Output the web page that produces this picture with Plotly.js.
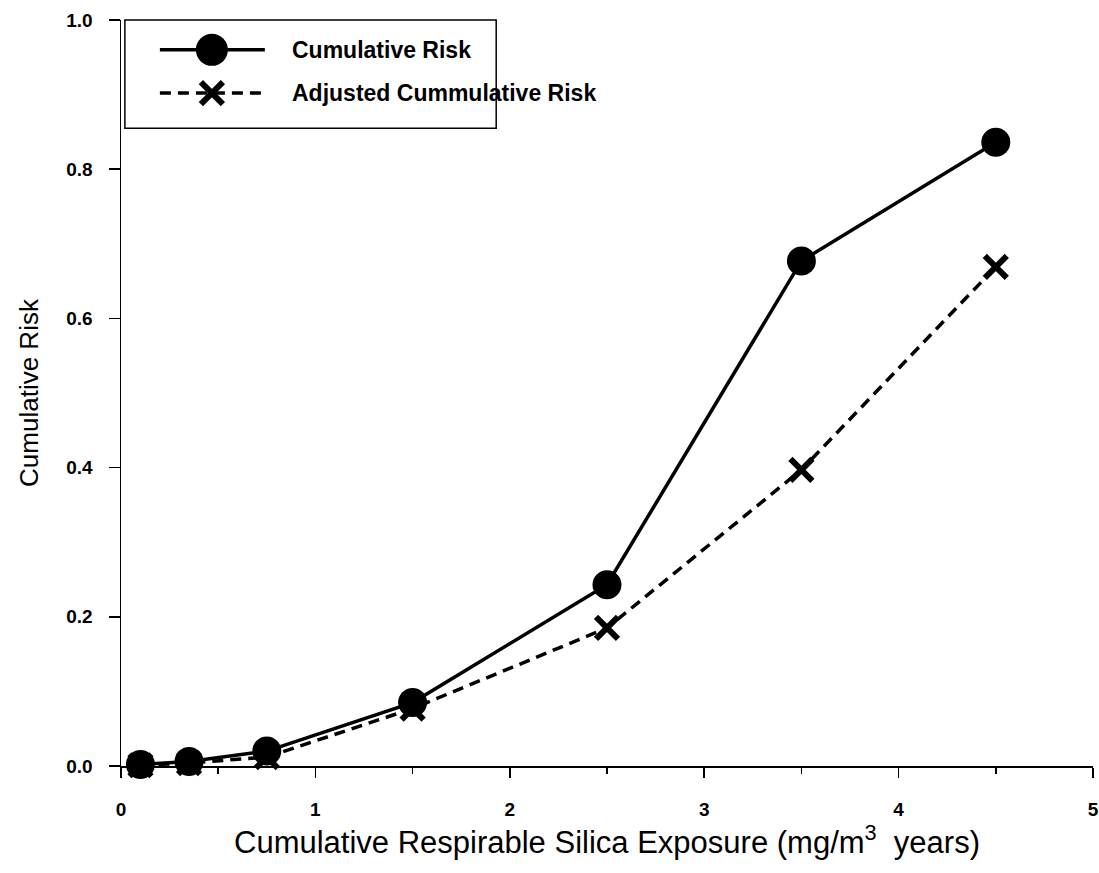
<!DOCTYPE html>
<html>
<head>
<meta charset="utf-8">
<script src="https://cdn.plot.ly/plotly-3.0.1.min.js"></script>
<style>
  html, body { margin: 0; padding: 0; background: #fff; }
  #chart { width: 1099px; height: 873px; }
</style>
</head>
<body>
<div id="chart"></div>
<script>
// Cumulative respirable silica exposure (mg/m^3 years)
const exposure = [0.1, 0.35, 0.75, 1.5, 2.5, 3.5, 4.5];
// Cumulative risk at each exposure level
const cumulativeRisk = [0.002, 0.006, 0.02, 0.085, 0.243, 0.677, 0.836];
// Adjusted cumulative risk at each exposure level
const adjustedRisk = [0.001, 0.004, 0.012, 0.077, 0.185, 0.397, 0.669];

const seriesNames = ['Cumulative Risk', 'Adjusted Cummulative Risk'];
const xTicks = [0, 1, 2, 3, 4, 5];
const yTicks = [0, 0.2, 0.4, 0.6, 0.8, 1.0];
const yTickText = ['0.0', '0.2', '0.4', '0.6', '0.8', '1.0'];

const INK = '#000';
const FAMILY = 'Liberation Sans, Arial, sans-serif';
const tickFont = { family: FAMILY, size: 19, color: INK, weight: 'bold' };
const DASH = '11px,7px';

const traces = [
  {
    x: exposure, y: cumulativeRisk, name: seriesNames[0],
    type: 'scatter', mode: 'lines+markers',
    line: { color: INK, width: 3.5 },
    marker: { symbol: 'circle', size: 29, color: INK },
    showlegend: false, cliponaxis: false
  },
  {
    x: exposure, y: adjustedRisk, name: seriesNames[1],
    type: 'scatter', mode: 'lines+markers',
    line: { color: INK, width: 3.5, dash: DASH },
    marker: { symbol: 'x-thin', size: 22, color: INK, line: { color: INK, width: 6 } },
    showlegend: false, cliponaxis: false
  }
];

// Hand-built key box in the upper-left corner
const key = { x0: 0.004, x1: 0.386, y0: 0.855, y1: 1.0,
              lineX0: 0.040, lineX1: 0.148, markX: 0.0935, textX: 0.174,
              rows: [0.960, 0.902] };

const shapes = [
  { type: 'rect', xref: 'paper', yref: 'paper', x0: key.x0, x1: key.x1, y0: key.y0, y1: key.y1,
    line: { color: INK, width: 1.5 }, fillcolor: '#fff', layer: 'above' },
  // solid sample
  { type: 'line', xref: 'paper', yref: 'paper', x0: key.lineX0, x1: key.lineX1, y0: key.rows[0], y1: key.rows[0],
    line: { color: INK, width: 3.5 }, layer: 'above' },
  { type: 'circle', xref: 'paper', yref: 'paper', xsizemode: 'pixel', ysizemode: 'pixel',
    xanchor: key.markX, yanchor: key.rows[0], x0: -16, x1: 16, y0: -16, y1: 16,
    fillcolor: INK, line: { color: INK, width: 0 }, layer: 'above' },
  // dashed sample
  { type: 'line', xref: 'paper', yref: 'paper', x0: key.lineX0, x1: key.lineX1, y0: key.rows[1], y1: key.rows[1],
    line: { color: INK, width: 3.5, dash: DASH }, layer: 'above' },
  { type: 'line', xref: 'paper', yref: 'paper', xsizemode: 'pixel', ysizemode: 'pixel',
    xanchor: key.markX, yanchor: key.rows[1], x0: -11, x1: 11, y0: -11, y1: 11,
    line: { color: INK, width: 6 }, layer: 'above' },
  { type: 'line', xref: 'paper', yref: 'paper', xsizemode: 'pixel', ysizemode: 'pixel',
    xanchor: key.markX, yanchor: key.rows[1], x0: -11, x1: 11, y0: 11, y1: -11,
    line: { color: INK, width: 6 }, layer: 'above' }
];

const annotations = seriesNames.map((name, i) => ({
  xref: 'paper', yref: 'paper', x: key.textX, y: key.rows[i],
  xanchor: 'left', yanchor: 'middle', showarrow: false, text: name,
  font: { family: FAMILY, size: 23, color: INK, weight: 'bold' }
}));

const layout = {
  width: 1099, height: 873,
  paper_bgcolor: '#fff', plot_bgcolor: '#fff',
  margin: { l: 121, r: 6, t: 20, b: 107 },
  showlegend: false,
  xaxis: {
    range: [0, 5], tickvals: xTicks, ticktext: xTicks.map(String),
    showgrid: false, zeroline: false, showline: true, linecolor: INK, linewidth: 1.5,
    ticks: 'outside', ticklen: 10, tickwidth: 1.5, tickcolor: INK,
    minor: { dtick: 0.5, ticks: 'outside', ticklen: 6, tickwidth: 1.5, tickcolor: INK },
    tickfont: tickFont, ticklabelstandoff: 16, ticklabeloverflow: 'allow',
    title: { text: 'Cumulative Respirable Silica Exposure (mg/m<sup>3</sup>  years)',
             font: { family: FAMILY, size: 31, color: INK }, standoff: 11 }
  },
  yaxis: {
    range: [0, 1], tickvals: yTicks, ticktext: yTickText,
    showgrid: false, zeroline: false, showline: true, linecolor: INK, linewidth: 1.5,
    ticks: 'outside', ticklen: 11, tickwidth: 1.5, tickcolor: INK,
    tickfont: tickFont, ticklabelstandoff: 12,
    title: { text: 'Cumulative Risk', font: { family: FAMILY, size: 26, color: INK }, standoff: 20 }
  },
  shapes: shapes,
  annotations: annotations
};

Plotly.newPlot('chart', traces, layout, { displayModeBar: false, staticPlot: true });
</script>
</body>
</html>
